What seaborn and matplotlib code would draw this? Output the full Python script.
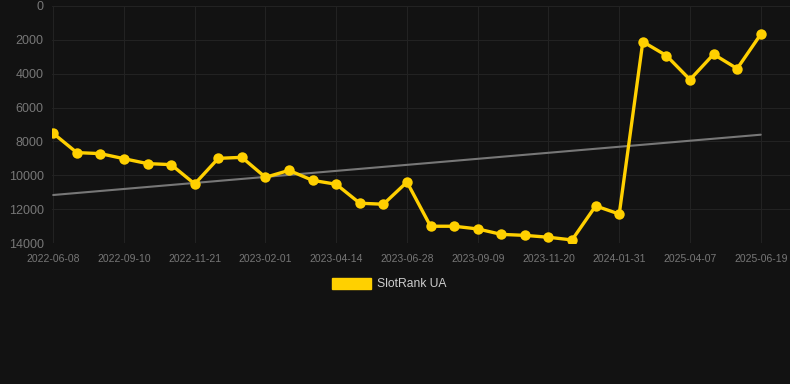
import numpy as np
import pandas as pd
import matplotlib
matplotlib.use("Agg")
import matplotlib.pyplot as plt
import seaborn as sns

# rank values, one per observation (evenly spaced on the x axis)
ranks = [7520, 8660, 8720, 9020, 9310, 9370, 10510, 9000, 8940, 10120,
         9710, 10300, 10530, 11650, 11710, 10400, 13010, 13010, 13170, 13490,
         13550, 13660, 13820, 11810, 12290, 2110, 2930, 4350, 2850, 3700, 1670]
tick_labels = ['2022-06-08', '2022-09-10', '2022-11-21', '2023-02-01', '2023-04-14',
               '2023-06-28', '2023-09-09', '2023-11-20', '2024-01-31', '2025-04-07',
               '2025-06-19']
tick_every = 3
series_name = 'SlotRank UA'

df = pd.DataFrame({'idx': np.arange(len(ranks)), 'rank': ranks})

bg = '#121212'
grid_c = '#222222'
yellow = '#FFD000'

sns.set_style('dark')
plt.rcParams['font.family'] = ['Liberation Sans', 'DejaVu Sans']

fig = plt.figure(figsize=(7.9, 3.84), dpi=100, facecolor=bg)
ax = fig.add_axes([52 / 790, 141 / 384, 738 / 790, 237 / 384])
ax.set_facecolor(bg)

# trend line (least squares)
slope, icpt = np.polyfit(df['idx'], df['rank'], 1)
ax.plot(df['idx'], slope * df['idx'] + icpt, color='#777777', lw=1.5, zorder=2)

sns.lineplot(data=df, x='idx', y='rank', ax=ax, color=yellow, lw=2.4,
             marker='o', markersize=7.5, markeredgewidth=0, zorder=3)

ax.set_ylim(14000, 0)
ax.set_xlim(-0.05, len(ranks) - 1 + 1.24)
ax.set_yticks(range(0, 14001, 2000))
ax.set_xticks(df['idx'][::tick_every], tick_labels)

ax.grid(True, color=grid_c, lw=0.8)
for s in ax.spines.values():
    s.set_visible(False)
ax.tick_params(axis='y', colors='#777777', labelsize=9, length=0, pad=6)
ax.tick_params(axis='x', colors=grid_c, labelcolor='#777777', labelsize=7.5,
               length=5, width=0.8, pad=3)
ax.set_xlabel('')
ax.set_ylabel('')

# legend
handle = plt.Rectangle((0, 0), 1, 1, color=yellow)
leg = fig.legend([handle], [series_name], loc='center',
                 bbox_to_anchor=(389.5 / 790, 1 - 284 / 384),
                 frameon=False, handlelength=3.2, handleheight=1.0, fontsize=8.7,
                 labelcolor='#cccccc', handletextpad=0.5)

fig.savefig('out.png', dpi=100, facecolor=bg)
